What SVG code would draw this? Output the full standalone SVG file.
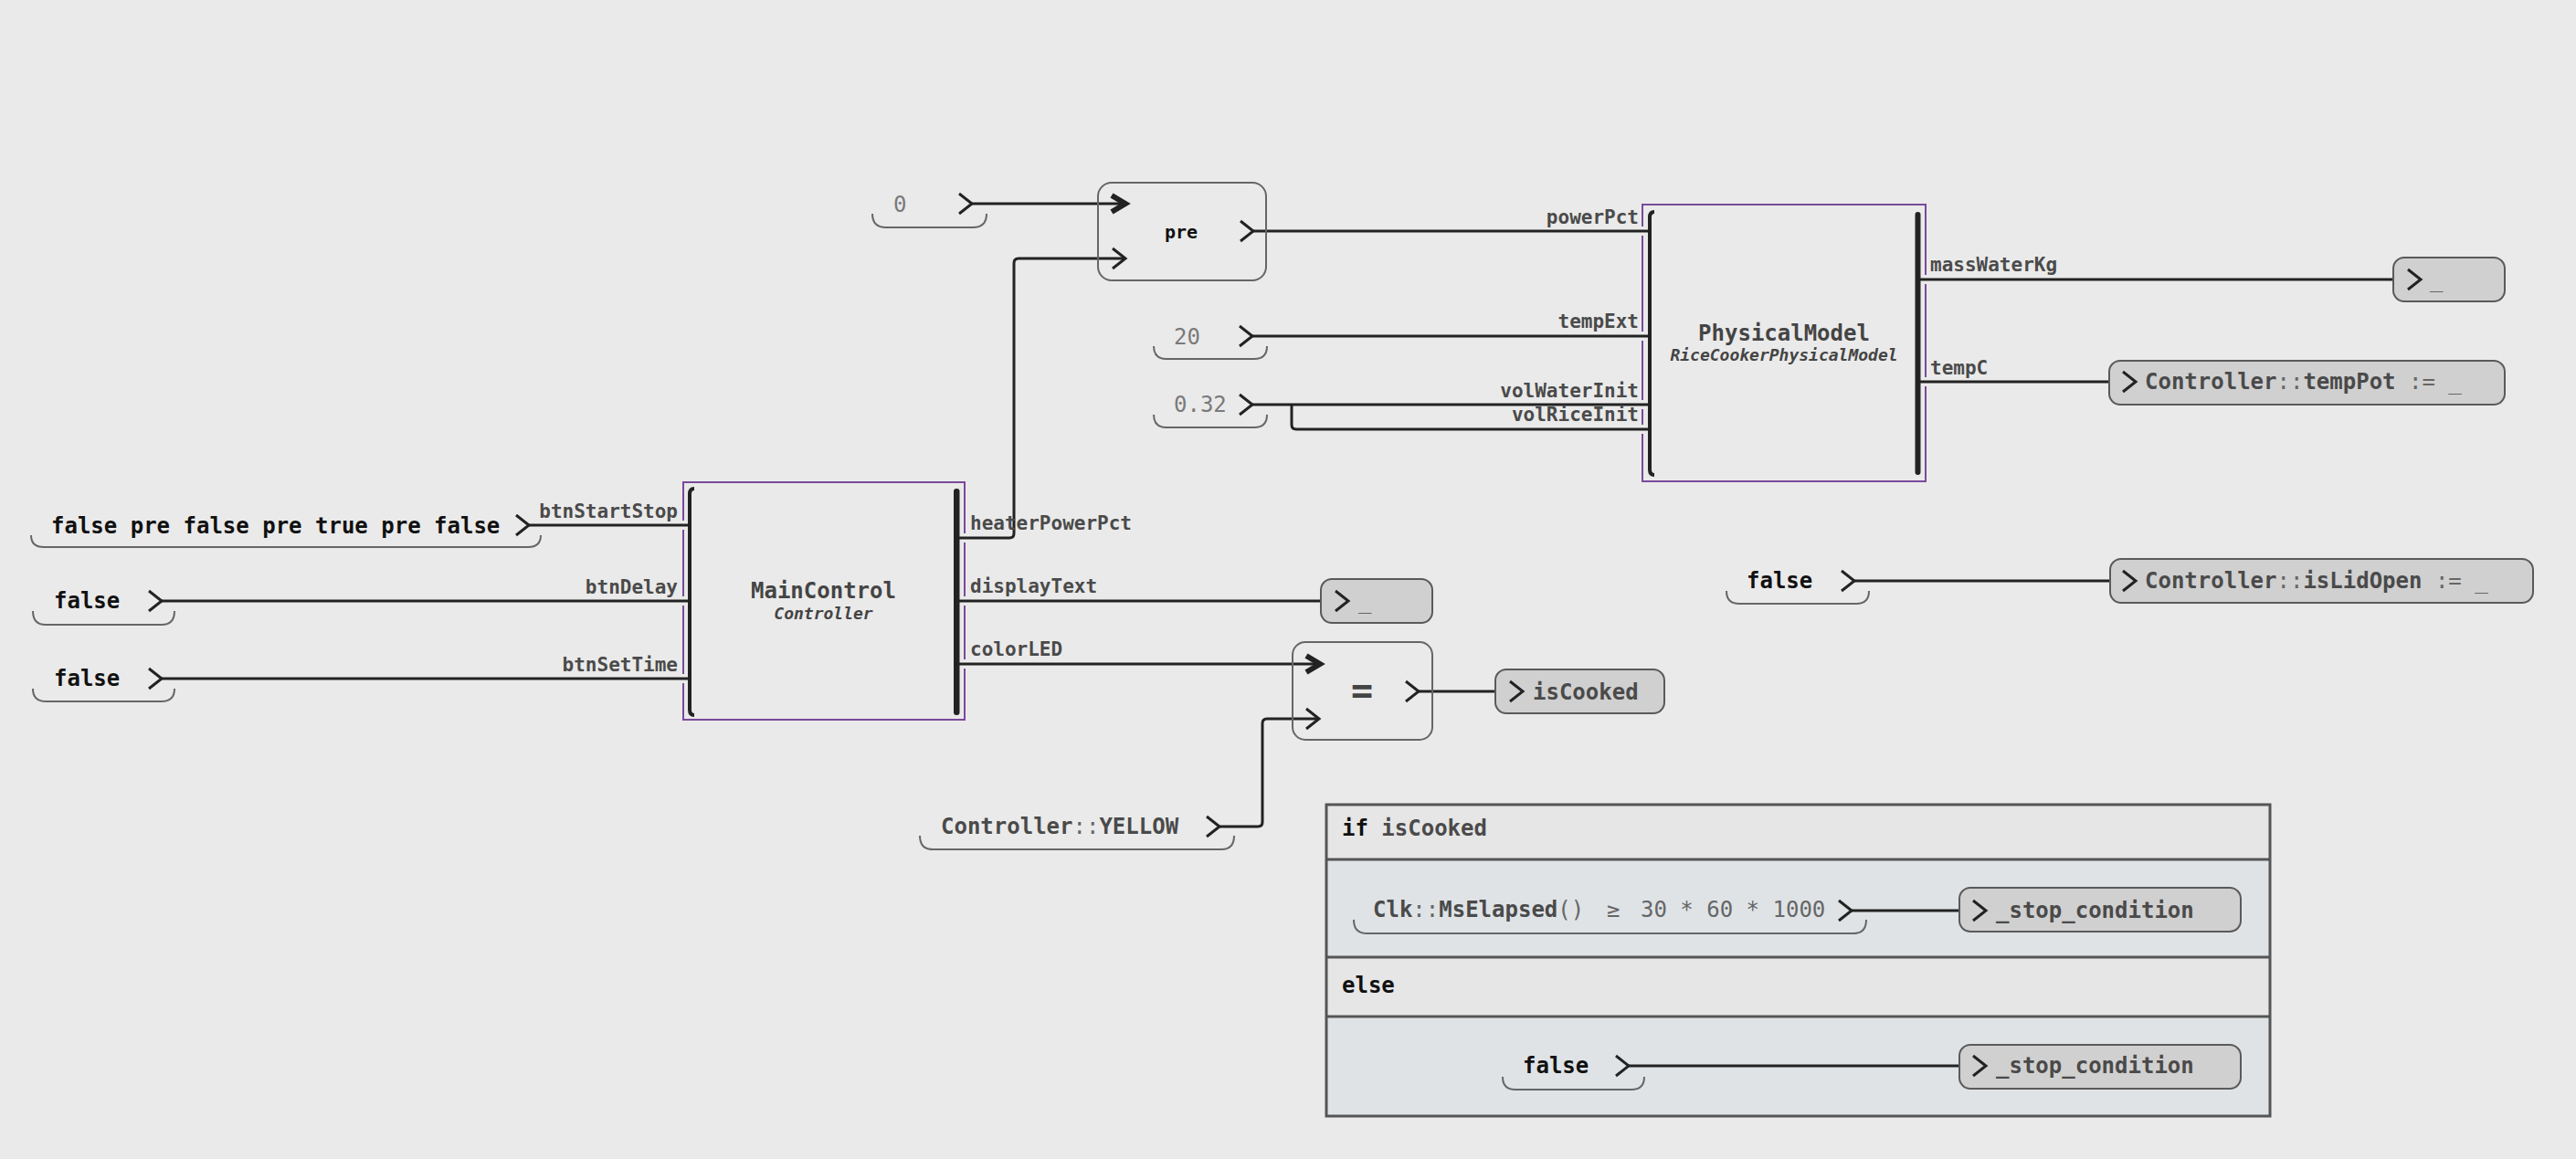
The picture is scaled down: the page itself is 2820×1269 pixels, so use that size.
<svg xmlns="http://www.w3.org/2000/svg" width="2820" height="1269" viewBox="0 0 2820 1269">
<style>
text{font-family:"DejaVu Sans Mono","Liberation Mono",monospace;}
.v{font-size:24px;font-weight:bold;fill:#111;}
.id{font-weight:bold;fill:#4a4a4a;}
.op{font-weight:normal;fill:#666;}
.num{font-size:24px;font-weight:normal;fill:#7a7a7a;}
.port{font-size:21px;font-weight:bold;fill:#4a4a4a;}
.title{font-size:24px;font-weight:bold;fill:#444;text-anchor:middle;}
.sub{font-size:18px;font-style:italic;font-weight:bold;fill:#444;text-anchor:middle;}
.end{text-anchor:end;}
.br{fill:none;stroke:#666;stroke-width:2;}
.wire{fill:none;stroke:#222;stroke-width:3;}
.tgt{fill:#d0d0d0;stroke:#5a5a5a;stroke-width:2;}
.opbox{fill:none;stroke:#666;stroke-width:2;}
.purple{fill:none;stroke:#7a4a9a;stroke-width:2;}
.lb{fill:none;stroke:#222;stroke-width:4;}
.rb{fill:#222;}
</style>
<defs>
<path id="chev" d="M-14,-11 L0,0 L-14,11" fill="none" stroke="#222" stroke-width="3"/>
<path id="chevb" d="M-15,-9 L0,0 L-15,9" fill="none" stroke="#222" stroke-width="6"/>
</defs>
<rect x="0" y="0" width="2820" height="1269" fill="#eaeaea"/>

<!-- if / else block -->
<g id="ifblock">
<rect x="1452" y="881" width="1033" height="60" fill="#e6e6e6"/>
<rect x="1452" y="941" width="1033" height="107" fill="#dfe3e6"/>
<rect x="1452" y="1048" width="1033" height="65" fill="#e6e6e6"/>
<rect x="1452" y="1113" width="1033" height="109" fill="#dfe3e6"/>
<rect x="1452" y="881" width="1033" height="341" fill="none" stroke="#555" stroke-width="3"/>
<path d="M1452,941 H2485 M1452,1048 H2485 M1452,1113 H2485" stroke="#555" stroke-width="3"/>
<text x="1469" y="915" class="v">if <tspan class="id">isCooked</tspan></text>
<text x="1469" y="1087" class="v">else</text>
</g>

<!-- connectors -->
<g id="connectors">
<path class="wire" d="M1064,223 H1230"/>
<path class="wire" d="M1047,589 H1105 Q1110,589 1110,584 V288 Q1110,283 1115,283 H1232"/>
<path class="wire" d="M1372,253 H1806"/>
<path class="wire" d="M1371,368 H1806"/>
<path class="wire" d="M1371,443 H1806"/>
<path class="wire" d="M1414,443 V465 Q1414,470 1419,470 H1806"/>
<path class="wire" d="M2100,306 H2650"/>
<path class="wire" d="M2100,418 H2338"/>
<path class="wire" d="M579,575 H755"/>
<path class="wire" d="M177,658 H755"/>
<path class="wire" d="M177,743 H755"/>
<path class="wire" d="M1047,658 H1476"/>
<path class="wire" d="M1047,727 H1443"/>
<path class="wire" d="M1335,905 H1377 Q1382,905 1382,900 V792 Q1382,787 1387,787 H1444"/>
<path class="wire" d="M1553,757 H1667"/>
<path class="wire" d="M2030,636 H2338"/>
<path class="wire" d="M2027,997 H2173"/>
<path class="wire" d="M1783,1167 H2173"/>
</g>

<!-- value inputs -->
<g id="in-zero">
<text x="978" y="232" class="num">0</text>
<use href="#chev" x="1064" y="223"/>
<path class="br" d="M955,234 Q955,249 970,249 H1065 Q1080,249 1080,234"/>
</g>
<g id="in-tempext">
<text x="1285" y="377" class="num">20</text>
<use href="#chev" x="1371" y="368"/>
<path class="br" d="M1263,379 Q1263,393 1277,393 H1373 Q1387,393 1387,379"/>
</g>
<g id="in-vol">
<text x="1285" y="451" class="num">0.32</text>
<use href="#chev" x="1371" y="443"/>
<path class="br" d="M1263,454 Q1263,468 1277,468 H1373 Q1387,468 1387,454"/>
</g>
<g id="in-startstop">
<text x="56" y="584" class="v">false pre false pre true pre false</text>
<use href="#chev" x="579" y="575"/>
<path class="br" d="M34,586 Q34,599 48,599 H578 Q592,599 592,586"/>
</g>
<g id="in-delay">
<text x="59" y="666" class="v">false</text>
<use href="#chev" x="177" y="658"/>
<path class="br" d="M36,669 Q36,684 50,684 H177 Q191,684 191,669"/>
</g>
<g id="in-settime">
<text x="59" y="751" class="v">false</text>
<use href="#chev" x="177" y="743"/>
<path class="br" d="M36,754 Q36,768 50,768 H177 Q191,768 191,754"/>
</g>
<g id="in-yellow">
<text x="1030" y="913" class="v"><tspan class="id">Controller</tspan><tspan class="op">::</tspan><tspan class="id">YELLOW</tspan></text>
<use href="#chev" x="1335" y="905"/>
<path class="br" d="M1007,915 Q1007,930 1021,930 H1337 Q1351,930 1351,915"/>
</g>
<g id="in-lid">
<text x="1912" y="644" class="v">false</text>
<use href="#chev" x="2030" y="636"/>
<path class="br" d="M1890,647 Q1890,661 1904,661 H2032 Q2046,661 2046,647"/>
</g>
<g id="in-clk">
<text x="1503" y="1004" class="v"><tspan class="id">Clk</tspan><tspan class="op">::</tspan><tspan class="id">MsElapsed</tspan><tspan class="op">()</tspan><tspan class="op" x="1759" fill="#444">≥</tspan><tspan class="op" x="1796" fill="#7a7a7a">30 * 60 * 1000</tspan></text>
<use href="#chev" x="2027" y="997"/>
<path class="br" d="M1482,1007 Q1482,1022 1496,1022 H2029 Q2043,1022 2043,1007"/>
</g>
<g id="in-else-false">
<text x="1667" y="1175" class="v">false</text>
<use href="#chev" x="1783" y="1167"/>
<path class="br" d="M1645,1179 Q1645,1193 1659,1193 H1786 Q1800,1193 1800,1179"/>
</g>

<!-- operators -->
<g id="op-pre">
<rect class="opbox" x="1202" y="200" width="184" height="107" rx="15"/>
<use href="#chevb" x="1232" y="223"/>
<use href="#chev" x="1232" y="283"/>
<text x="1293" y="261" class="v" text-anchor="middle" style="font-size:20px">pre</text>
<use href="#chev" x="1372" y="253"/>
</g>
<g id="op-eq">
<rect class="opbox" x="1415" y="703" width="153" height="107" rx="14"/>
<use href="#chevb" x="1445" y="727"/>
<use href="#chev" x="1444" y="787"/>
<text x="1491" y="770" text-anchor="middle" style="font-size:40px;font-weight:bold;fill:#444">=</text>
<use href="#chev" x="1553" y="757"/>
</g>

<!-- MainControl -->
<g id="MainControl">
<path class="purple" d="M748,570 V528 H1056 V584 M1056,594 V653 M1056,663 V722 M1056,732 V788 H748 V748 M748,738 V663 M748,653 V580"/>
<path class="lb" d="M760,535 Q755,535 755,541 V777 Q755,783 760,783"/>
<rect class="rb" x="1044" y="535" width="6.5" height="248" rx="3"/>
<text x="901.5" y="655" class="title">MainControl</text>
<text x="901.5" y="678" class="sub">Controller</text>
<text x="742" y="567" class="port end">btnStartStop</text>
<text x="742" y="650" class="port end">btnDelay</text>
<text x="742" y="735" class="port end">btnSetTime</text>
<text x="1062" y="580" class="port">heaterPowerPct</text>
<text x="1062" y="649" class="port">displayText</text>
<text x="1062" y="718" class="port">colorLED</text>
</g>

<!-- PhysicalModel -->
<g id="PhysicalModel">
<path class="purple" d="M1798,248 V224 H2108 V301 M2108,311 V413 M2108,423 V527 H1798 V475 M1798,465 V448 M1798,438 V373 M1798,363 V258"/>
<path class="lb" d="M1811,232 Q1806,232 1806,238 V514 Q1806,520 1811,520"/>
<rect class="rb" x="2096.5" y="232" width="6" height="288" rx="3"/>
<text x="1953" y="373" class="title">PhysicalModel</text>
<text x="1953" y="395" class="sub">RiceCookerPhysicalModel</text>
<text x="1794" y="245" class="port end">powerPct</text>
<text x="1794" y="359" class="port end">tempExt</text>
<text x="1794" y="435" class="port end">volWaterInit</text>
<text x="1794" y="461" class="port end">volRiceInit</text>
<text x="2113" y="297" class="port">massWaterKg</text>
<text x="2113" y="410" class="port">tempC</text>
</g>

<!-- targets -->
<g id="out-display">
<rect class="tgt" x="1446" y="634" width="122" height="48" rx="12"/>
<use href="#chev" x="1476" y="658"/>
<text x="1487" y="666" class="v"><tspan class="op">_</tspan></text>
</g>
<g id="out-iscooked">
<rect class="tgt" x="1637" y="733" width="185" height="48" rx="12"/>
<use href="#chev" x="1667" y="757"/>
<text x="1678" y="766" class="v"><tspan class="id">isCooked</tspan></text>
</g>
<g id="out-mass">
<rect class="tgt" x="2620" y="282" width="122" height="48" rx="12"/>
<use href="#chev" x="2650" y="306"/>
<text x="2660" y="314" class="v"><tspan class="op">_</tspan></text>
</g>
<g id="out-temppot">
<rect class="tgt" x="2309" y="395" width="433" height="48" rx="12"/>
<use href="#chev" x="2338" y="418"/>
<text x="2348" y="426" class="v"><tspan class="id">Controller</tspan><tspan class="op">::</tspan><tspan class="id">tempPot</tspan><tspan class="op"> := _</tspan></text>
</g>
<g id="out-lid">
<rect class="tgt" x="2310" y="612" width="463" height="48" rx="12"/>
<use href="#chev" x="2338" y="636"/>
<text x="2348" y="644" class="v"><tspan class="id">Controller</tspan><tspan class="op">::</tspan><tspan class="id">isLidOpen</tspan><tspan class="op"> := _</tspan></text>
</g>
<g id="out-stop1">
<rect class="tgt" x="2145" y="972" width="308" height="48" rx="12"/>
<use href="#chev" x="2174" y="997"/>
<text x="2185" y="1005" class="v"><tspan class="id">_stop_condition</tspan></text>
</g>
<g id="out-stop2">
<rect class="tgt" x="2145" y="1144" width="308" height="48" rx="12"/>
<use href="#chev" x="2174" y="1167"/>
<text x="2185" y="1175" class="v"><tspan class="id">_stop_condition</tspan></text>
</g>
</svg>
